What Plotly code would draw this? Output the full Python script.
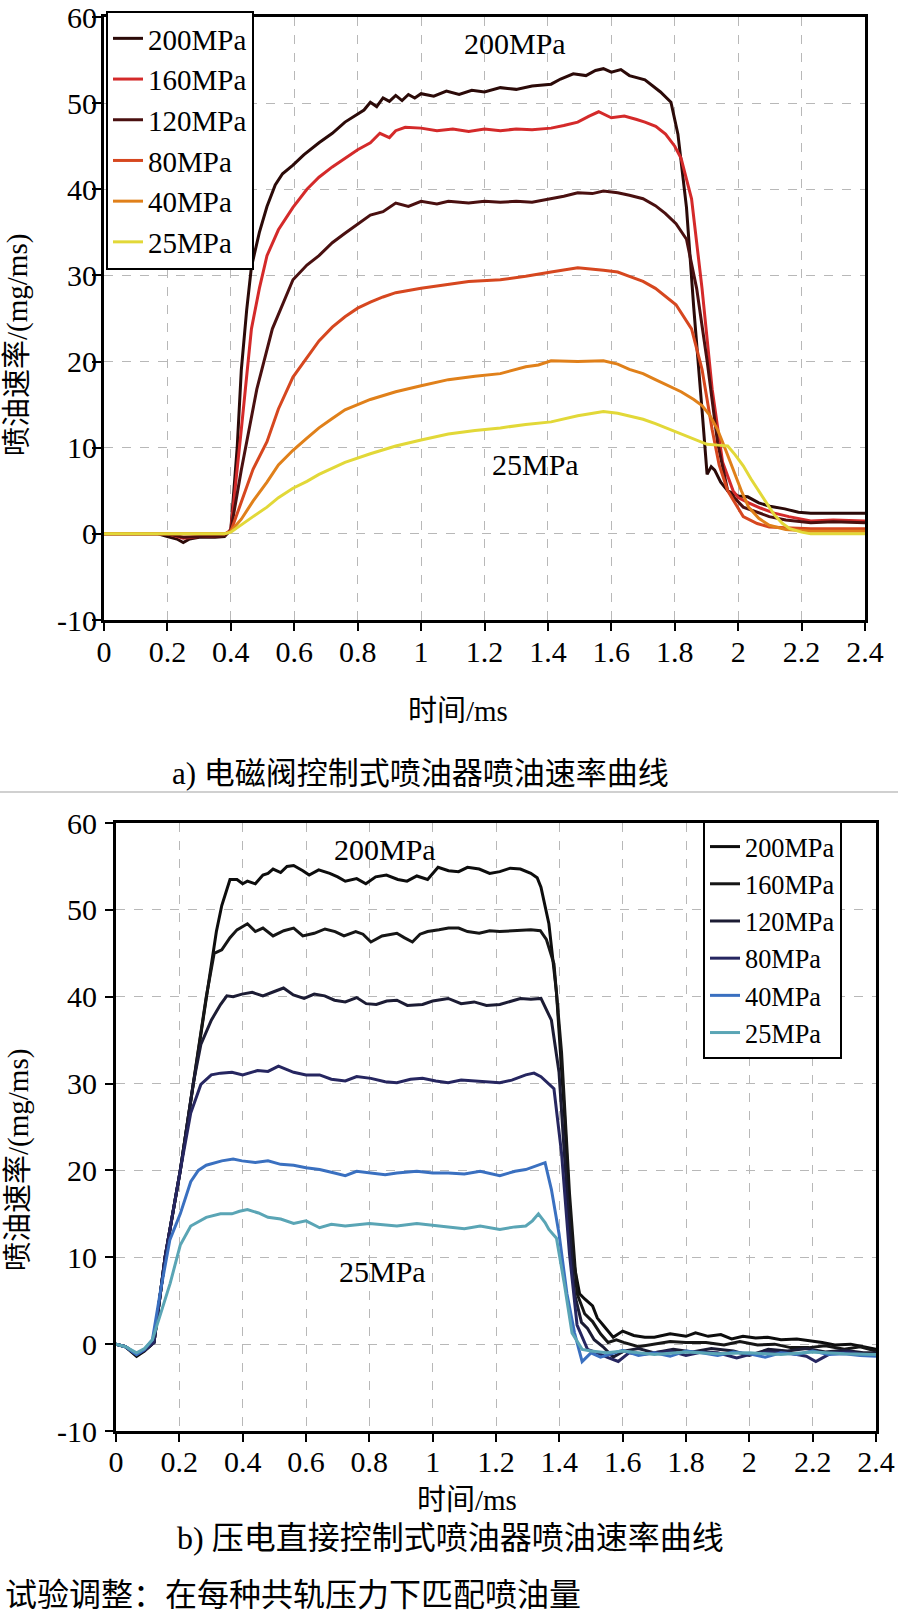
import plotly.graph_objects as go

W, H = 898, 1618

names = ["200MPa", "160MPa", "120MPa", "80MPa", "40MPa", "25MPa"]
colors_a = ["#2b0a08", "#d42a2a", "#4a1010", "#d6471f", "#e0801a", "#e2d838"]
colors_b = ["#0d0d0d", "#161616", "#1c1c34", "#262660", "#3a70c0", "#5aa5b5"]

x_ticks = [0, 0.2, 0.4, 0.6, 0.8, 1.0, 1.2, 1.4, 1.6, 1.8, 2.0, 2.2, 2.4]
x_ticktext = ["0", "0.2", "0.4", "0.6", "0.8", "1", "1.2", "1.4", "1.6", "1.8", "2", "2.2", "2.4"]
y_ticks = [-10, 0, 10, 20, 30, 40, 50, 60]
y_ticktext = ["-10", "0", "10", "20", "30", "40", "50", "60"]

# ---------- a) solenoid valve injector ----------
t_a200 = [0, 0.1, 0.17, 0.2, 0.23, 0.25, 0.27, 0.3, 0.35, 0.38, 0.40, 0.42, 0.433, 0.45, 0.465, 0.49, 0.514, 0.54, 0.563, 0.596,
          0.63, 0.678, 0.72, 0.76, 0.8, 0.82, 0.84, 0.86, 0.88, 0.9, 0.92, 0.94, 0.96, 0.98, 1.0, 1.04, 1.08, 1.12, 1.16, 1.2,
          1.25, 1.3, 1.35, 1.41, 1.44, 1.48, 1.52, 1.55, 1.575, 1.6, 1.63, 1.657, 1.706, 1.74, 1.755, 1.788, 1.81, 1.837, 1.86,
          1.886, 1.902, 1.915, 1.926, 1.945, 1.967, 2.0, 2.03, 2.065, 2.1, 2.147, 2.19, 2.229, 2.3, 2.4]
v_a200 = [0, 0, 0, -0.3, -0.6, -1.0, -0.6, -0.4, -0.4, -0.3, 0.5, 10, 19, 26, 31, 35, 38, 40.5, 41.8, 42.8,
          44, 45.4, 46.5, 47.8, 48.8, 49.2, 50.1, 49.6, 50.6, 50.2, 50.9, 50.3, 51.0, 50.6, 51.1, 50.8, 51.4, 51.0, 51.5, 51.3,
          51.8, 51.6, 52.0, 52.2, 52.8, 53.4, 53.2, 53.8, 54.0, 53.6, 53.9, 53.2, 52.7, 51.8, 51.3, 50.1, 46.4, 37.9, 26.2,
          14.4, 6.9, 7.8, 7.4, 6.0, 5.0, 4.4, 4.3, 3.6, 3.2, 2.9, 2.5, 2.4, 2.4, 2.4]

t_a160 = [0, 0.2, 0.25, 0.3, 0.38, 0.40, 0.433, 0.45, 0.465, 0.49, 0.514, 0.55, 0.596, 0.64, 0.678, 0.72, 0.76, 0.8, 0.84,
          0.87, 0.9, 0.92, 0.95, 1.0, 1.05, 1.1, 1.15, 1.2, 1.25, 1.3, 1.35, 1.41, 1.45, 1.494, 1.53, 1.56, 1.6, 1.641, 1.68,
          1.706, 1.74, 1.771, 1.8, 1.82, 1.853, 1.886, 1.918, 1.951, 1.984, 2.0, 2.033, 2.07, 2.114, 2.16, 2.229, 2.3, 2.4]
v_a160 = [0, 0, -0.5, -0.3, -0.2, 0.5, 12.1, 18, 23.8, 28.5, 32.3, 35.3, 37.9, 40, 41.4, 42.6, 43.6, 44.6, 45.4,
          46.5, 46.0, 46.8, 47.2, 47.1, 46.8, 47.0, 46.7, 47.0, 46.8, 47.0, 46.9, 47.1, 47.4, 47.8, 48.5, 49.0, 48.3, 48.5, 48.1,
          47.8, 47.3, 46.4, 45.0, 43.6, 38.9, 28.5, 16.8, 8.3, 5.0, 4.2, 3.6, 3.0, 2.4, 2.0, 1.5, 1.6, 1.5]

t_a120 = [0, 0.2, 0.25, 0.3, 0.38, 0.40, 0.433, 0.482, 0.531, 0.596, 0.64, 0.678, 0.72, 0.76, 0.8, 0.84, 0.88, 0.92, 0.96,
          1.0, 1.05, 1.086, 1.15, 1.2, 1.25, 1.3, 1.35, 1.41, 1.45, 1.494, 1.54, 1.575, 1.62, 1.657, 1.7, 1.739, 1.77, 1.804,
          1.837, 1.869, 1.902, 1.935, 1.967, 2.016, 2.06, 2.098, 2.15, 2.229, 2.3, 2.4]
v_a120 = [0, 0, -0.4, -0.3, -0.2, 0.4, 7.4, 16.8, 23.8, 29.5, 31.2, 32.3, 33.8, 34.9, 35.9, 37.0, 37.4, 38.4, 38.0,
          38.6, 38.3, 38.6, 38.4, 38.6, 38.5, 38.6, 38.5, 38.9, 39.2, 39.6, 39.5, 39.8, 39.6, 39.3, 38.9, 38.1, 37.2, 36.0,
          34.2, 28.5, 20.1, 10.6, 5.0, 3.1, 2.5, 2.0, 1.6, 1.3, 1.4, 1.3]

t_a80 = [0, 0.2, 0.38, 0.40, 0.433, 0.47, 0.514, 0.55, 0.596, 0.64, 0.678, 0.72, 0.76, 0.8, 0.84, 0.88, 0.92, 1.0, 1.086,
         1.15, 1.25, 1.33, 1.41, 1.494, 1.575, 1.62, 1.657, 1.7, 1.739, 1.77, 1.804, 1.853, 1.886, 1.918, 1.94, 1.967, 2.016,
         2.06, 2.098, 2.15, 2.229, 2.4]
v_a80 = [0, 0, 0, 0.3, 3.6, 7.5, 10.7, 14.5, 18.2, 20.5, 22.4, 24.0, 25.2, 26.2, 26.9, 27.5, 28.0, 28.5, 29.0,
         29.3, 29.5, 29.9, 30.4, 30.9, 30.6, 30.4, 29.9, 29.3, 28.5, 27.6, 26.6, 23.8, 19.1, 12.1, 8.0, 5.0, 2.0,
         1.2, 0.8, 0.7, 0.6, 0.6]

t_a40 = [0, 0.2, 0.38, 0.40, 0.433, 0.47, 0.514, 0.55, 0.596, 0.64, 0.678, 0.72, 0.76, 0.84, 0.92, 1.0, 1.086, 1.17, 1.25,
         1.33, 1.37, 1.41, 1.494, 1.575, 1.62, 1.657, 1.7, 1.739, 1.78, 1.82, 1.86, 1.886, 1.91, 1.935, 1.96, 1.984, 2.01,
         2.033, 2.065, 2.098, 2.15, 2.229, 2.4]
v_a40 = [0, 0, 0, 0.3, 1.7, 3.8, 6.0, 8.0, 9.7, 11.1, 12.3, 13.4, 14.4, 15.6, 16.5, 17.2, 17.9, 18.3, 18.6,
         19.4, 19.6, 20.1, 20.0, 20.1, 19.7, 19.1, 18.6, 17.9, 17.2, 16.5, 15.6, 14.9, 13.8, 12.1, 9.8, 7.4, 5.0,
         3.1, 1.8, 1.0, 0.5, 0.3, 0.3]

t_a25 = [0, 0.2, 0.38, 0.40, 0.433, 0.47, 0.514, 0.55, 0.596, 0.64, 0.678, 0.72, 0.76, 0.84, 0.92, 1.0, 1.086, 1.17, 1.25,
         1.33, 1.41, 1.494, 1.575, 1.62, 1.657, 1.7, 1.739, 1.78, 1.82, 1.86, 1.902, 1.935, 1.967, 1.99, 2.016, 2.04, 2.065,
         2.09, 2.114, 2.14, 2.163, 2.2, 2.229, 2.4]
v_a25 = [0, 0, 0, 0.2, 1.0, 2.0, 3.1, 4.2, 5.3, 6.1, 6.9, 7.6, 8.3, 9.3, 10.2, 10.9, 11.6, 12.0, 12.3,
         12.7, 13.0, 13.7, 14.2, 14.0, 13.7, 13.3, 12.8, 12.2, 11.6, 11.0, 10.4, 10.3, 10.2, 9.2, 7.9, 6.4, 5.0,
         3.6, 2.2, 1.2, 0.6, 0.2, 0.0, 0.0]

# ---------- b) piezo direct-acting injector ----------
t_b200 = [0, 0.03, 0.065, 0.09, 0.12, 0.155, 0.203, 0.244, 0.285, 0.317, 0.334, 0.36, 0.382, 0.40, 0.415, 0.44, 0.464, 0.48,
          0.496, 0.52, 0.54, 0.561, 0.59, 0.61, 0.64, 0.675, 0.70, 0.724, 0.76, 0.789, 0.82, 0.854, 0.89, 0.919, 0.95, 0.984,
          1.017, 1.05, 1.082, 1.11, 1.147, 1.18, 1.212, 1.245, 1.277, 1.31, 1.33, 1.342, 1.367, 1.391, 1.416, 1.44, 1.464,
          1.48, 1.505, 1.52, 1.538, 1.57, 1.6, 1.635, 1.67, 1.7, 1.75, 1.8, 1.83, 1.87, 1.91, 1.944, 1.98, 2.02, 2.058, 2.1,
          2.15, 2.188, 2.23, 2.27, 2.32, 2.36, 2.4]
v_b200 = [0, -0.3, -1.4, -0.8, 0.2, 10, 20, 30, 40, 47.5, 50.5, 53.5, 53.5, 53.0, 53.3, 53.0, 54.0, 54.2,
          54.7, 54.3, 55.0, 55.1, 54.5, 54.0, 54.6, 54.2, 53.8, 53.3, 53.6, 53.0, 53.8, 54.0, 53.5, 53.3, 53.9, 53.5,
          54.9, 54.5, 54.4, 54.9, 54.7, 54.2, 54.4, 54.8, 54.7, 54.2, 53.7, 52.6, 48.4, 40.5, 26.6, 10.4, 5.8,
          5.2, 4.4, 3.0, 2.2, 0.8, 1.5, 1.0, 0.8, 0.8, 1.2, 0.9, 1.3, 0.9, 1.1, 0.6, 0.9, 0.7, 0.8, 0.5,
          0.6, 0.4, 0.2, -0.1, 0.0, -0.3, -0.6]

t_b160 = [0, 0.03, 0.065, 0.09, 0.12, 0.155, 0.203, 0.244, 0.285, 0.31, 0.334, 0.36, 0.382, 0.415, 0.44, 0.464, 0.496, 0.53,
          0.561, 0.59, 0.626, 0.66, 0.692, 0.72, 0.757, 0.78, 0.805, 0.84, 0.887, 0.91, 0.936, 0.96, 0.984, 1.02, 1.05, 1.082,
          1.11, 1.147, 1.18, 1.212, 1.25, 1.31, 1.34, 1.359, 1.383, 1.407, 1.432, 1.456, 1.48, 1.505, 1.53, 1.554, 1.58,
          1.603, 1.65, 1.7, 1.75, 1.8, 1.863, 1.92, 1.97, 2.026, 2.08, 2.13, 2.188, 2.24, 2.3, 2.35, 2.4]
v_b160 = [0, -0.3, -1.2, -0.7, 0.2, 10, 20, 30, 40, 45.0, 45.4, 46.8, 47.7, 48.4, 47.5, 47.9, 47.0, 47.6,
          47.9, 47.0, 47.3, 47.8, 47.5, 47.0, 47.5, 47.2, 46.3, 47.0, 47.3, 46.8, 46.3, 47.2, 47.5, 47.7, 47.9, 47.9,
          47.5, 47.3, 47.6, 47.5, 47.6, 47.7, 47.6, 46.6, 43.8, 33.6, 17.4, 5.8, 3.5, 2.6, 1.2, 0.2, 0.5,
          0.2, -0.3, 0.0, 0.3, 0.2, 0.2, -0.1, 0.3, -0.1, 0.0, -0.4, -0.4, -0.2, -0.6, -0.3, -0.8]

t_b120 = [0, 0.03, 0.065, 0.09, 0.12, 0.155, 0.203, 0.244, 0.268, 0.301, 0.33, 0.35, 0.37, 0.398, 0.43, 0.464, 0.5, 0.529,
          0.56, 0.594, 0.626, 0.659, 0.69, 0.724, 0.76, 0.79, 0.822, 0.855, 0.887, 0.92, 0.968, 1.0, 1.049, 1.09, 1.131, 1.17,
          1.212, 1.245, 1.277, 1.31, 1.342, 1.375, 1.399, 1.424, 1.448, 1.47, 1.489, 1.51, 1.538, 1.57, 1.603, 1.65, 1.7,
          1.76, 1.82, 1.88, 1.95, 2.0, 2.06, 2.12, 2.18, 2.24, 2.3, 2.36, 2.4]
v_b120 = [0, -0.3, -1.2, -0.7, 0.2, 10, 20, 30, 34.5, 37.3, 39.1, 40.1, 40.0, 40.3, 40.5, 40.1, 40.6, 41.0,
          40.2, 39.8, 40.3, 40.1, 39.6, 39.4, 39.9, 39.2, 39.1, 39.5, 39.6, 39.0, 39.1, 39.5, 39.8, 39.2, 39.4, 39.0,
          39.1, 39.5, 39.8, 39.7, 39.8, 37.3, 31.3, 17.4, 5.8, 2.5, 1.8, 0.5, -0.3, -1.5, -0.8, -0.5, -1.0,
          -0.6, -0.9, -0.5, -0.8, -1.3, -0.6, -0.8, -0.5, -0.9, -0.7, -1.0, -1.0]

t_b80 = [0, 0.03, 0.065, 0.09, 0.12, 0.155, 0.203, 0.236, 0.268, 0.301, 0.33, 0.366, 0.4, 0.447, 0.48, 0.513, 0.54, 0.561,
         0.6, 0.643, 0.68, 0.724, 0.76, 0.805, 0.85, 0.887, 0.93, 0.968, 1.01, 1.049, 1.09, 1.131, 1.17, 1.212, 1.25, 1.294,
         1.32, 1.342, 1.383, 1.407, 1.432, 1.456, 1.489, 1.52, 1.55, 1.586, 1.62, 1.66, 1.7, 1.75, 1.8, 1.85, 1.9, 1.96,
         2.0, 2.06, 2.12, 2.18, 2.21, 2.26, 2.32, 2.36, 2.4]
v_b80 = [0, -0.3, -1.2, -0.7, 0.2, 10, 20, 26.6, 29.9, 31.0, 31.2, 31.3, 31.0, 31.5, 31.4, 32.0, 31.6, 31.3,
         31.0, 31.0, 30.5, 30.3, 30.8, 30.6, 30.2, 30.1, 30.5, 30.6, 30.3, 30.1, 30.4, 30.3, 30.2, 30.1, 30.4, 31.0,
         31.2, 30.8, 29.4, 22.0, 10.4, 2.2, -0.6, -1.0, -1.5, -2.0, -1.0, -1.2, -1.0, -0.8, -1.3, -0.9, -1.0, -1.6,
         -1.2, -0.9, -1.0, -1.4, -2.0, -1.0, -0.9, -1.2, -1.2]

t_b40 = [0, 0.03, 0.065, 0.09, 0.115, 0.14, 0.17, 0.203, 0.236, 0.26, 0.285, 0.334, 0.37, 0.398, 0.44, 0.48, 0.52, 0.561,
         0.6, 0.643, 0.68, 0.724, 0.76, 0.805, 0.85, 0.887, 0.95, 1.0, 1.049, 1.1, 1.15, 1.212, 1.26, 1.294, 1.334, 1.355,
         1.375, 1.399, 1.424, 1.448, 1.472, 1.5, 1.53, 1.57, 1.6, 1.65, 1.7, 1.75, 1.8, 1.85, 1.9, 1.95, 2.0, 2.05, 2.1,
         2.15, 2.2, 2.25, 2.3, 2.35, 2.4]
v_b40 = [0, -0.3, -1.2, -0.6, 0.5, 6, 12, 15.0, 18.7, 20.0, 20.6, 21.1, 21.3, 21.1, 20.9, 21.1, 20.7, 20.6,
         20.3, 20.1, 19.8, 19.4, 19.9, 19.7, 19.5, 19.7, 19.9, 19.7, 19.7, 19.6, 19.9, 19.4, 19.9, 20.1, 20.6, 20.9,
         17.8, 12.7, 5.8, 1.3, -2.0, -1.0, -1.5, -1.0, -0.7, -1.3, -1.0, -1.4, -0.8, -1.0, -1.3, -0.9, -1.1, -1.5, -1.0,
         -1.2, -0.8, -1.2, -1.1, -1.3, -1.4]

t_b25 = [0, 0.03, 0.065, 0.09, 0.115, 0.14, 0.171, 0.203, 0.236, 0.285, 0.33, 0.366, 0.39, 0.415, 0.45, 0.48, 0.52, 0.561,
         0.6, 0.643, 0.68, 0.724, 0.8, 0.887, 0.95, 1.049, 1.1, 1.15, 1.212, 1.26, 1.294, 1.315, 1.334, 1.355, 1.367, 1.391,
         1.416, 1.44, 1.472, 1.5, 1.55, 1.6, 1.7, 1.8, 1.9, 2.0, 2.1, 2.2, 2.3, 2.4]
v_b25 = [0, -0.3, -1.0, -0.5, 0.5, 3.5, 7.0, 11.4, 13.6, 14.6, 15.0, 15.0, 15.3, 15.5, 15.1, 14.6, 14.4, 13.9,
         14.2, 13.4, 13.8, 13.6, 13.9, 13.6, 13.9, 13.5, 13.3, 13.6, 13.2, 13.5, 13.6, 14.2, 15.0, 14.0, 13.2, 12.2,
         6.9, 1.3, -0.6, -0.8, -1.0, -0.8, -1.2, -0.9, -1.1, -1.0, -1.2, -0.9, -1.1, -1.2]

series_a = [(t_a200, v_a200), (t_a160, v_a160), (t_a120, v_a120), (t_a80, v_a80), (t_a40, v_a40), (t_a25, v_a25)]
series_b = [(t_b200, v_b200), (t_b160, v_b160), (t_b120, v_b120), (t_b80, v_b80), (t_b40, v_b40), (t_b25, v_b25)]

LAT = "Liberation Serif"
MIX = "Liberation Serif, Noto Sans CJK SC"

fig = go.Figure()
for (t, v), nm, c in zip(series_a, names, colors_a):
    fig.add_trace(go.Scatter(x=t, y=v, mode="lines", name=nm, line=dict(color=c, width=3),
                             xaxis="x", yaxis="y", legend="legend"))
for (t, v), nm, c in zip(series_b, names, colors_b):
    fig.add_trace(go.Scatter(x=t, y=v, mode="lines", name=nm, line=dict(color=c, width=3),
                             xaxis="x2", yaxis="y2", legend="legend2"))


def px(x):
    return x / W


def py(y):
    return 1 - y / H


axis_common = dict(showline=True, linecolor="black", linewidth=3, mirror=True,
                   ticks="outside", tickcolor="black", tickwidth=2, automargin=False,
                   ticklabeloverflow="allow",
                   showgrid=True, gridcolor="#b8b8b8", gridwidth=1, griddash="dash",
                   zeroline=False, tickfont=dict(family=LAT, size=30, color="black"))

# plot areas in pixels
A = dict(x0=104, x1=865, y0=17, y1=620)
B = dict(x0=116, x1=876, y0=823, y1=1431)

fig.update_layout(
    width=W, height=H, margin=dict(l=0, r=0, t=0, b=0, autoexpand=False),
    paper_bgcolor="white", plot_bgcolor="white",
    xaxis=dict(domain=[px(A["x0"]), px(A["x1"])], range=[0, 2.4], tickvals=x_ticks, ticktext=x_ticktext,
               anchor="y", ticklen=8, ticklabelstandoff=-5, **axis_common),
    yaxis=dict(domain=[py(A["y1"]), py(A["y0"])], range=[-10, 60], tickvals=y_ticks, ticktext=y_ticktext,
               anchor="x", ticklen=9, ticklabelstandoff=-11, **axis_common),
    xaxis2=dict(domain=[px(B["x0"]), px(B["x1"])], range=[0, 2.4], tickvals=x_ticks, ticktext=x_ticktext,
                anchor="y2", ticklen=8, ticklabelstandoff=-6, **axis_common),
    yaxis2=dict(domain=[py(B["y1"]), py(B["y0"])], range=[-10, 60], tickvals=y_ticks, ticktext=y_ticktext,
                anchor="x2", ticklen=8, ticklabelstandoff=2, **axis_common),
    legend=dict(x=px(106), y=py(11), xanchor="left", yanchor="top", bgcolor="white",
                bordercolor="black", borderwidth=2, font=dict(family=LAT, size=29, color="black"),
                tracegroupgap=0),
    legend2=dict(x=px(703), y=py(821), xanchor="left", yanchor="top", bgcolor="white",
                 bordercolor="black", borderwidth=2, font=dict(family=LAT, size=26.3, color="black"),
                 tracegroupgap=0),
    showlegend=True,
)

ann = []
# in-plot labels (data coords)
ann.append(dict(x=1.295, y=56.9, xref="x", yref="y", text="200MPa", showarrow=False,
                font=dict(family=LAT, size=30, color="black")))
ann.append(dict(x=1.36, y=8.1, xref="x", yref="y", text="25MPa", showarrow=False,
                font=dict(family=LAT, size=30, color="black")))
ann.append(dict(x=0.85, y=57.0, xref="x2", yref="y2", text="200MPa", showarrow=False,
                font=dict(family=LAT, size=30, color="black")))
ann.append(dict(x=0.84, y=8.4, xref="x2", yref="y2", text="25MPa", showarrow=False,
                font=dict(family=LAT, size=30, color="black")))


# axis titles and captions (paper coords from pixels)
def ptext(x, y, text, size, xanchor="center", angle=0):
    return dict(x=px(x), y=py(y), xref="paper", yref="paper", text=text, showarrow=False,
                xanchor=xanchor, yanchor="middle", textangle=angle,
                font=dict(family=MIX, size=size, color="black"))


ann.append(ptext(458, 711, "时间/ms", 29))
ann.append(ptext(420, 773, "a) 电磁阀控制式喷油器喷油速率曲线", 31))
ann.append(ptext(18, 345, "喷油速率/(mg/ms)", 29, angle=-90))
ann.append(ptext(467, 1500, "时间/ms", 29))
ann.append(ptext(451, 1538, "b) 压电直接控制式喷油器喷油速率曲线", 32))
ann.append(ptext(18, 1160, "喷油速率/(mg/ms)", 29, angle=-90))
ann.append(ptext(3, 1595, "试验调整：在每种共轨压力下匹配喷油量", 32, xanchor="left"))
fig.update_layout(annotations=ann)

fig.add_shape(type="line", xref="paper", yref="paper", x0=0, x1=1, y0=py(792), y1=py(792),
              line=dict(color="#d0d0d0", width=2))

fig.write_html("out.html")
